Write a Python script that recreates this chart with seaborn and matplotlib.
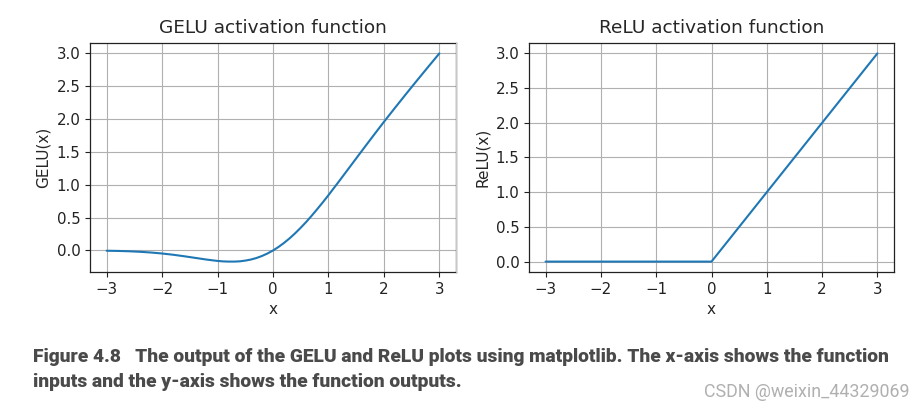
import matplotlib
matplotlib.use("Agg")
import matplotlib.pyplot as plt
import seaborn as sns
import pandas as pd
from matplotlib.lines import Line2D

# Values
gelu_x = [-3.0, -2.8, -2.6, -2.4, -2.2, -2.0, -1.8, -1.6, -1.4, -1.2, -1.0, -0.9, -0.8,
          -0.7, -0.6, -0.5, -0.4, -0.3, -0.2, -0.1, 0.0, 0.1, 0.2, 0.3, 0.4, 0.5, 0.6,
          0.7, 0.8, 0.9, 1.0, 1.2, 1.4, 1.6, 1.8, 2.0, 2.2, 2.4, 2.6, 2.8, 3.0]
gelu_y = [-0.004, -0.007, -0.012, -0.020, -0.031, -0.046, -0.065, -0.088, -0.113, -0.138,
          -0.159, -0.166, -0.169, -0.169, -0.165, -0.154, -0.138, -0.115, -0.084, -0.046,
          0.0, 0.054, 0.116, 0.185, 0.262, 0.346, 0.435, 0.531, 0.631, 0.734, 0.841,
          1.062, 1.287, 1.512, 1.735, 1.955, 2.169, 2.380, 2.588, 2.793, 2.996]
relu_x = [-3.0, -2.0, -1.0, 0.0, 1.0, 2.0, 3.0]
relu_y = [0.0, 0.0, 0.0, 0.0, 1.0, 2.0, 3.0]

titles = ["GELU activation function", "ReLU activation function"]
ylabels = ["GELU(x)", "ReLU(x)"]
xticks = [-3, -2, -1, 0, 1, 2, 3]
yticks = [0.0, 0.5, 1.0, 1.5, 2.0, 2.5, 3.0]
caption_1 = "Figure 4.8   The output of the GELU and ReLU plots using matplotlib. The x-axis shows the function"
caption_2 = "inputs and the y-axis shows the function outputs."
watermark = "CSDN @weixin_44329069"

sns.set_style("ticks")
plt.rcParams["font.family"] = ["DejaVu Sans"]

fig = plt.figure(figsize=(9.16, 4.08), dpi=100)
W, H = 916, 408
boxes = [(90, 43, 456, 272), (529, 43, 894, 272)]
data = [(gelu_x, gelu_y), (relu_x, relu_y)]

for i, (l, t, r, b) in enumerate(boxes):
    ax = fig.add_axes([l / W, 1 - b / H, (r - l) / W, (b - t) / H])
    df = pd.DataFrame({"x": data[i][0], "y": data[i][1]})
    sns.lineplot(data=df, x="x", y="y", ax=ax, color="#1f77b4", linewidth=1.5)
    ax.set_xticks(xticks)
    ax.set_yticks(yticks)
    ax.set_yticklabels([f"{v:.1f}" for v in yticks])
    ax.set_xticklabels([f"{v}".replace("-", "\u2212") for v in xticks])
    ax.grid(True, color="#b0b0b0", linewidth=0.8)
    ax.set_title(titles[i], fontsize=13.3, pad=7)
    ax.set_xlabel("x", fontsize=11)
    ax.set_ylabel(ylabels[i], fontsize=11)
    ax.tick_params(labelsize=10.8, length=3.5, width=0.8, colors="#222222")
    for s in ax.spines.values():
        s.set_visible(True)
        s.set_color("#222222")
        s.set_linewidth(0.9)

# faint page artifact line
fig.add_artist(Line2D([456 / W, 456 / W], [1 - 272 / H, 1 - 42 / H], color="#c8c8c8", linewidth=0.8))

cap_font = ["Roboto", "DejaVu Sans"]
fig.text(33 / W, 1 - 357 / H, caption_1, fontsize=13.8, fontweight="heavy", color="#4a4a4a",
         family=cap_font, va="center", ha="left")
fig.text(33 / W, 1 - 382 / H, caption_2, fontsize=13.8, fontweight="heavy", color="#4a4a4a",
         family=cap_font, va="center", ha="left")
fig.text(910 / W, 1 - 392 / H, watermark, fontsize=12.9, color="#b0b0b0",
         family=cap_font, va="center", ha="right")

fig.savefig("out.png", dpi=100, facecolor="white")
